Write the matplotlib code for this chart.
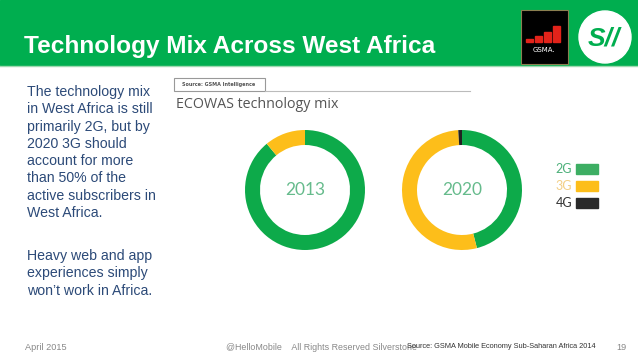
import matplotlib
matplotlib.use("Agg")
import matplotlib.pyplot as plt
from matplotlib.patches import Rectangle, Circle

# ---- data ----
years = ["2013", "2020"]
technologies = ["2G", "3G", "4G"]
share_2013 = [89, 11, 0]
share_2020 = [46, 53, 1]
tech_colors = ["#0DAA4A", "#FDBE1A", "#222222"]
legend_colors = ["#3DAE63", "#FDBE1A", "#2A2A2A"]
legend_text_colors = ["#4DB07A", "#F3CF86", "#333333"]

title = "Technology Mix Across West Africa"
para1 = ["The technology mix", "in West Africa is still", "primarily 2G, but by",
         "2020 3G should", "account for more", "than 50% of the",
         "active subscribers in", "West Africa."]
para2 = ["Heavy web and app", "experiences simply", "won\u2019t work in Africa."]

W, H = 638, 359
fig = plt.figure(figsize=(W / 100, H / 100), dpi=100)
fig.patch.set_facecolor("white")

bg = fig.add_axes([0, 0, 1, 1])
bg.set_xlim(0, W)
bg.set_ylim(H, 0)
bg.axis("off")

# header
green = "#00AE4F"
bg.add_patch(Rectangle((0, 0), W, 65, color=green, zorder=1))
bg.plot([0, W], [66, 66], color="#9FD9B0", lw=1, zorder=1)
bg.text(24, 47, title, color="white", fontsize=17.6, fontweight="bold",
        family="Liberation Sans", va="center", ha="left", zorder=3)

# GSMA logo
bg.add_patch(Rectangle((521, 10), 47, 54, facecolor="black", edgecolor="#8A7F50", lw=0.8, zorder=3))
bar_h = [3, 6, 10, 16]
for i, h in enumerate(bar_h):
    bg.add_patch(Rectangle((526 + i * 9, 42 - h), 7, h, color="#E2231A", zorder=4))
bg.text(544, 50, "GSMA.", color="white", fontsize=5, family="DejaVu Sans",
        ha="center", va="center", zorder=4)
# S// logo
bg.add_patch(Circle((605, 37), 26, color="white", zorder=3))
bg.text(604, 38, "S//", color=green, fontsize=19, fontweight="bold", fontstyle="italic",
        family="Liberation Sans", ha="center", va="center", zorder=4)

# left text
txt_color = "#2C4A78"
for i, line in enumerate(para1):
    bg.text(27, 92 + i * 17.3, line, color=txt_color, fontsize=10.2,
            family="Liberation Sans", va="center", ha="left")
for i, line in enumerate(para2):
    bg.text(27, 256 + i * 17.3, line, color=txt_color, fontsize=10.2,
            family="Liberation Sans", va="center", ha="left")

# chart frame
bg.add_patch(Rectangle((174, 78), 91, 13, facecolor="white", edgecolor="#999999", lw=0.8))
bg.text(219, 84.5, "Source: GSMA Intelligence", fontsize=3.5, color="#555555",
        fontweight="bold", ha="center", va="center")
bg.plot([265, 470], [91, 91], color="#BBBBBB", lw=0.8)
bg.text(176, 104, "ECOWAS technology mix", fontsize=10.3, color="#555555",
        family="Open Sans", ha="left", va="center")

# donuts
centers = [(305, 190), (462, 190)]
radius = 60
for (cx, cy), yr, vals in zip(centers, years, [share_2013, share_2020]):
    ax = fig.add_axes([(cx - radius) / W, (H - cy - radius) / H, 2 * radius / W, 2 * radius / H])
    ax.pie(vals, colors=tech_colors, startangle=90, counterclock=False,
           wedgeprops=dict(width=0.25, edgecolor="none"), radius=1)
    ax.set_aspect("equal")
    ax.set_xlim(-1, 1)
    ax.set_ylim(-1, 1)
    ax.text(0, 0, yr, ha="center", va="center", fontsize=12.5, color="#66BB8C",
            family="Lato")

# legend
for i, (t, c, tc) in enumerate(zip(technologies, legend_colors, legend_text_colors)):
    y = 169 + i * 17
    bg.text(572, y, t, ha="right", va="center", fontsize=9, color=tc, family="Lato")
    bg.add_patch(Rectangle((576, y - 5), 22, 10, color=c))

# footer
bg.text(25, 347, "April 2015", fontsize=6.6, color="#888888", family="Liberation Sans",
        va="center", ha="left")
bg.text(226, 347, "@HelloMobile    All Rights Reserved Silverstone", fontsize=6.4,
        color="#888888", family="Liberation Sans", va="center", ha="left")
bg.text(407, 347, "Source: GSMA Mobile Economy Sub-Saharan Africa 2014", fontsize=5.3,
        color="#333333", family="Liberation Sans", va="center", ha="left")
bg.text(616, 347, "19", fontsize=6.6, color="#888888", family="Liberation Sans",
        va="center", ha="left")

fig.savefig("out.png", dpi=100, facecolor="white")
